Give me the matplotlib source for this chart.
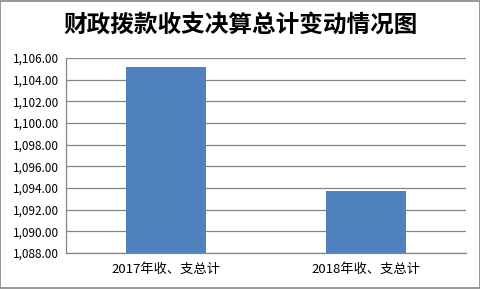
import matplotlib
matplotlib.use('Agg')
import matplotlib.pyplot as plt
from matplotlib.patches import Rectangle
from matplotlib.ticker import FuncFormatter

plt.rcParams['font.family'] = ['Noto Sans CJK SC', 'DejaVu Sans']

title = '财政拨款收支决算总计变动情况图'
categories = ['2017年收、支总计', '2018年收、支总计']
values = [1105.17, 1093.75]
y_ticks = [1088, 1090, 1092, 1094, 1096, 1098, 1100, 1102, 1104, 1106]

fig = plt.figure(figsize=(4.81, 2.89), dpi=100)
ax = fig.add_axes([0.137, 0.1246, 0.832, 0.6747])

ax.bar(range(len(categories)), values, width=0.4, color='#4F81BD', zorder=3)
ax.set_xlim(-0.5, 1.5)
ax.set_ylim(1088, 1106)
ax.set_yticks(y_ticks)
ax.yaxis.set_major_formatter(FuncFormatter(lambda v, p: f'{v:,.2f}'))
ax.set_xticks(range(len(categories)))
ax.set_xticklabels(categories)
ax.tick_params(axis='both', length=0, colors='black')
ax.tick_params(axis='y', pad=5, labelsize=8.5)
ax.tick_params(axis='x', pad=7, labelsize=9.5)
ax.grid(axis='y', color='#868686', linewidth=0.9, zorder=0)
for s in ['top', 'right']:
    ax.spines[s].set_visible(False)
for s in ['left', 'bottom']:
    ax.spines[s].set_color('#868686')
    ax.spines[s].set_linewidth(0.9)

fig.text(0.5, 0.915, title, ha='center', va='center', fontsize=17, fontweight='bold')
fig.patches.append(Rectangle((0.001, 0.002), 0.997, 0.995, transform=fig.transFigure,
                             fill=False, edgecolor='#868686', linewidth=1.2))

fig.savefig('out.png', dpi=100)
